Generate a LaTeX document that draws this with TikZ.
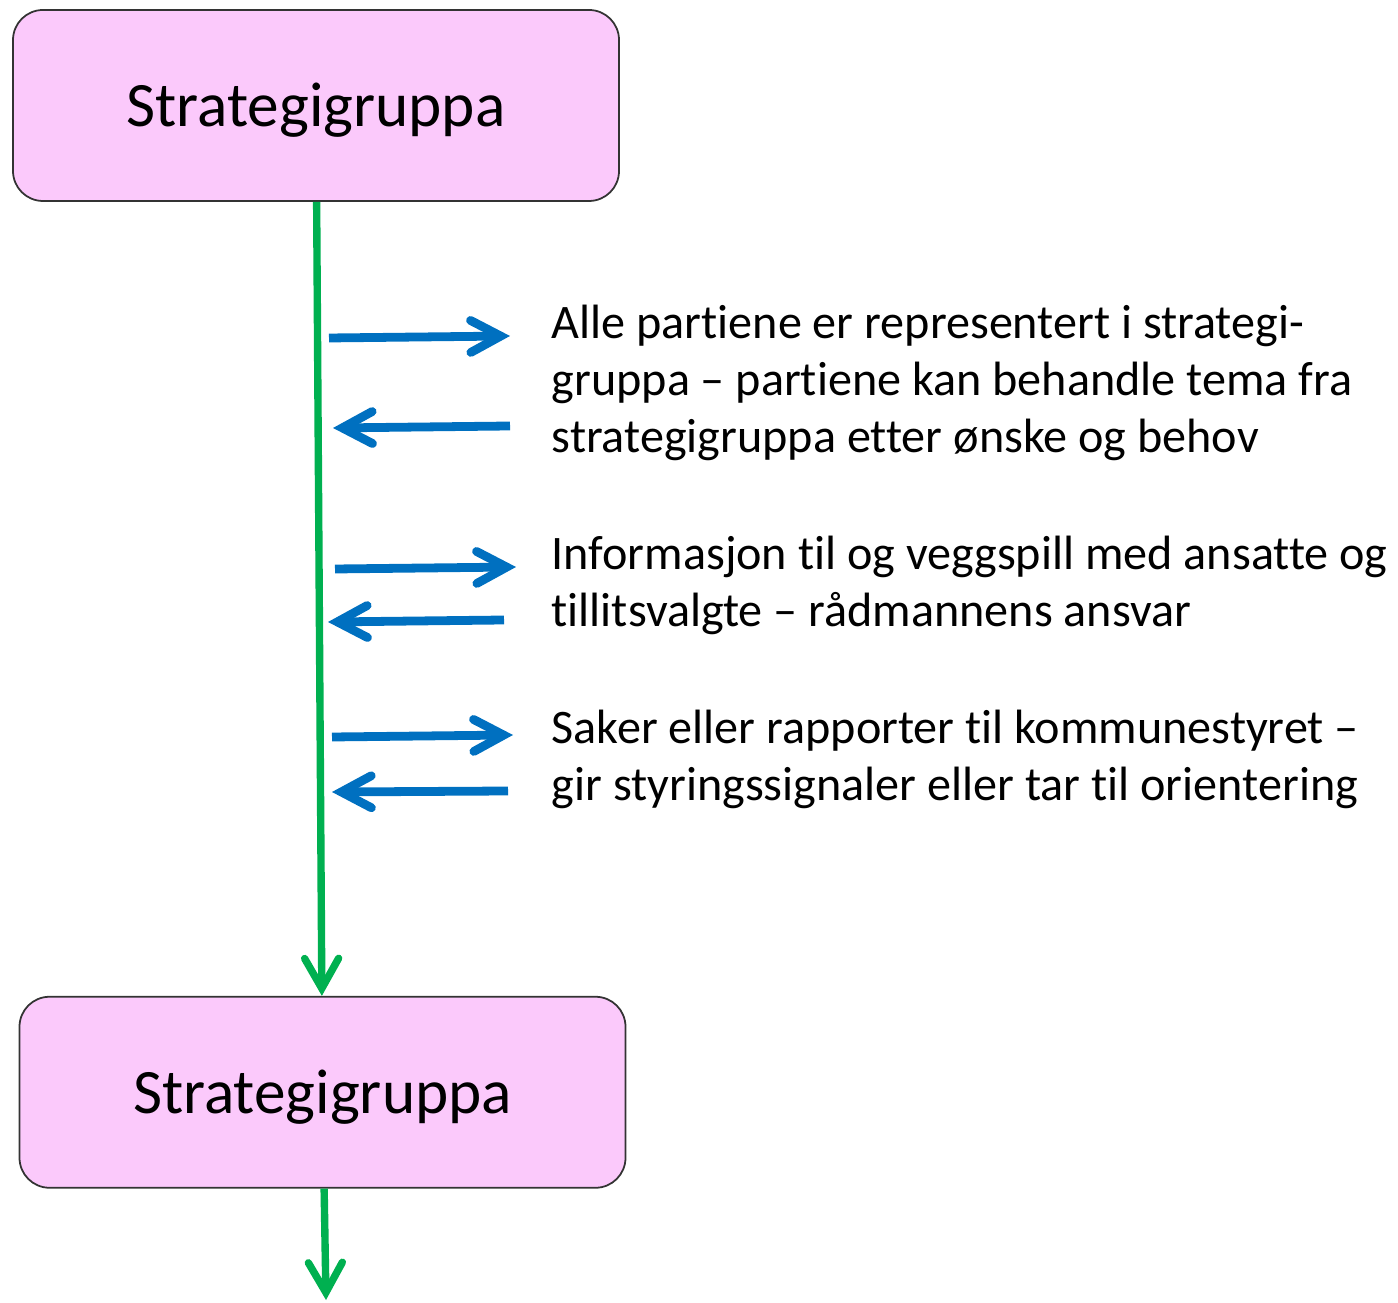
\documentclass[tikz,border=0pt]{standalone}
\usepackage{fontspec}
\setmainfont{Carlito}[Ligatures=NoCommon]
\usepackage{tikz}
\usetikzlibrary{arrows.meta, positioning}
\definecolor{gruppepink}{RGB}{251,201,251}
\definecolor{flytgreen}{RGB}{0,176,80}
\definecolor{infoblue}{RGB}{0,112,192}
\tikzstyle{group} = [rectangle, rounded corners=0.3cm, minimum width=6.06cm, minimum height=1.91cm, text centered, text height=0.54cm, text depth=0.12cm, draw=black!80, line width=0.5pt, fill=gruppepink, font=\fontsize{18}{22}\selectfont]
\tikzstyle{flow} = [flytgreen, line width=2.1pt, -{Straight Barb[length=0.3cm, width=0.34cm, line cap=round, line join=miter]}]
\tikzstyle{info} = [infoblue, line width=2.5pt, -{Straight Barb[length=0.3cm, width=0.32cm, line cap=round, line join=miter]}]
\tikzstyle{note} = [anchor=north west, inner sep=0pt, align=left, font=\fontsize{13.7}{16.3}\selectfont]

\begin{document}
\begin{tikzpicture}
\useasboundingbox (0,0) rectangle (13.98,13.02);
\node (strategitop) [group] at (3.16,11.965) {Strategigruppa};
\node (strategibottom) [group, below=7.94cm of strategitop, xshift=0.065cm] {Strategigruppa};
\coordinate (videre) at (3.26,0.02);
\draw [flow] (strategitop) -- (strategibottom);
\draw [flow] (strategibottom) -- (videre);
% partiene
\coordinate (p1a) at (3.29,9.64);
\coordinate (p1b) at (5.10,9.66);
\coordinate (p2a) at (5.10,8.76);
\coordinate (p2b) at (3.33,8.74);
\draw [info] (p1a) -- (p1b);
\draw [info] (p2a) -- (p2b);
% ansatte
\coordinate (a1a) at (3.35,7.33);
\coordinate (a1b) at (5.16,7.35);
\coordinate (a2a) at (5.04,6.82);
\coordinate (a2b) at (3.28,6.80);
\draw [info] (a1a) -- (a1b);
\draw [info] (a2a) -- (a2b);
% kommunestyret
\coordinate (k1a) at (3.32,5.65);
\coordinate (k1b) at (5.13,5.67);
\coordinate (k2a) at (5.08,5.11);
\coordinate (k2b) at (3.32,5.10);
\draw [info] (k1a) -- (k1b);
\draw [info] (k2a) -- (k2b);
\node (partiene) [note] at (5.51,9.98) {Alle partiene er representert i strategi-\\gruppa – partiene kan behandle tema fra\\strategigruppa etter ønske og behov};
\node (ansatte) [note] at (5.51,7.67) {Informasjon til og veggspill med ansatte og\\tillitsvalgte – rådmannens ansvar};
\node (kommune) [note] at (5.51,5.93) {Saker eller rapporter til kommunestyret –\\gir styringssignaler eller tar til orientering};
\end{tikzpicture}
\end{document}
